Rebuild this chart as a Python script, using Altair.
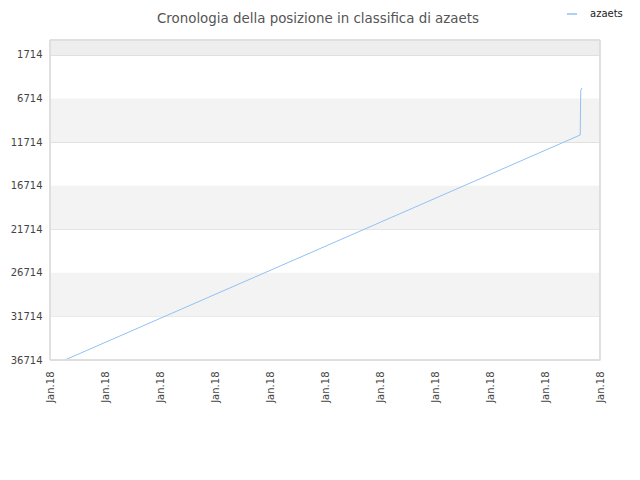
import altair as alt
import pandas as pd

# data
t = [0.27, 9.64, 9.65, 9.67]
rank = [36714, 10900, 5800, 5500]
series = ["azaets"] * 4
yticks = [1714, 6714, 11714, 16714, 21714, 26714, 31714, 36714]
band_lo = [0, 6714, 16714, 26714]
band_hi = [1714, 11714, 21714, 31714]
band_col = ["#eeeeee", "#f3f3f3", "#f3f3f3", "#f3f3f3"]

df = pd.DataFrame({"t": t, "rank": rank, "s": series})
bands = pd.DataFrame({"lo": band_lo, "hi": band_hi, "c": band_col})

ysc = alt.Scale(domain=[0, 36714], reverse=True, nice=False, zero=False)
xsc = alt.Scale(domain=[0, 10], nice=False, zero=False)

yaxis = alt.Axis(values=yticks, format="d", grid=True, gridColor="#e0e0e0", ticks=False,
                 domain=False, labelFont="DejaVu Sans", labelFontSize=10,
                 labelColor="#444", labelPadding=8)
xaxis = alt.Axis(values=list(range(11)), labelExpr="'Jan.18'", labelAngle=-90,
                 labelAlign="right", labelBaseline="middle", labelPadding=11,
                 grid=False, ticks=False, domain=False, labelFont="DejaVu Sans",
                 labelFontSize=10, labelColor="#444")

band = alt.Chart(bands).mark_rect().encode(
    y=alt.Y("lo:Q", scale=ysc, axis=yaxis, title=None),
    y2="hi:Q",
    x=alt.value(0), x2=alt.value(550),
    fill=alt.Fill("c:N", scale=None, legend=None),
)

line = alt.Chart(df).mark_line(strokeWidth=1, interpolate="linear").encode(
    x=alt.X("t:Q", scale=xsc, title=None, axis=xaxis),
    y=alt.Y("rank:Q", scale=ysc, title=None, axis=yaxis),
    color=alt.Color("s:N", scale=alt.Scale(range=["#92c1f5"]),
                    legend=alt.Legend(title=None, orient="none", legendX=516, legendY=-32,
                                      symbolType="stroke", symbolSize=100, symbolStrokeWidth=1.5,
                                      labelOffset=12,
                                      labelFont="DejaVu Sans", labelFontSize=10, labelColor="#222")),
)

border = alt.Chart(df).mark_rect(fill=None, stroke="#dddddd", strokeWidth=1).encode(
    x=alt.value(0), x2=alt.value(550), y=alt.value(0), y2=alt.value(320),
)

chart = (band + line + border).properties(
    width=550, height=320,
    autosize=alt.AutoSizeParams(type="none"),
    padding={"left": 42, "top": 32, "right": 30, "bottom": 100},
    title=alt.TitleParams("Cronologia della posizione in classifica di azaets", font="DejaVu Sans",
                          fontSize=13.4, fontWeight="normal", color="#555", offset=0, dy=17, dx=-7),
).configure_view(stroke=None)

chart.save("out.html", embed_options={"renderer": "svg", "actions": False})
